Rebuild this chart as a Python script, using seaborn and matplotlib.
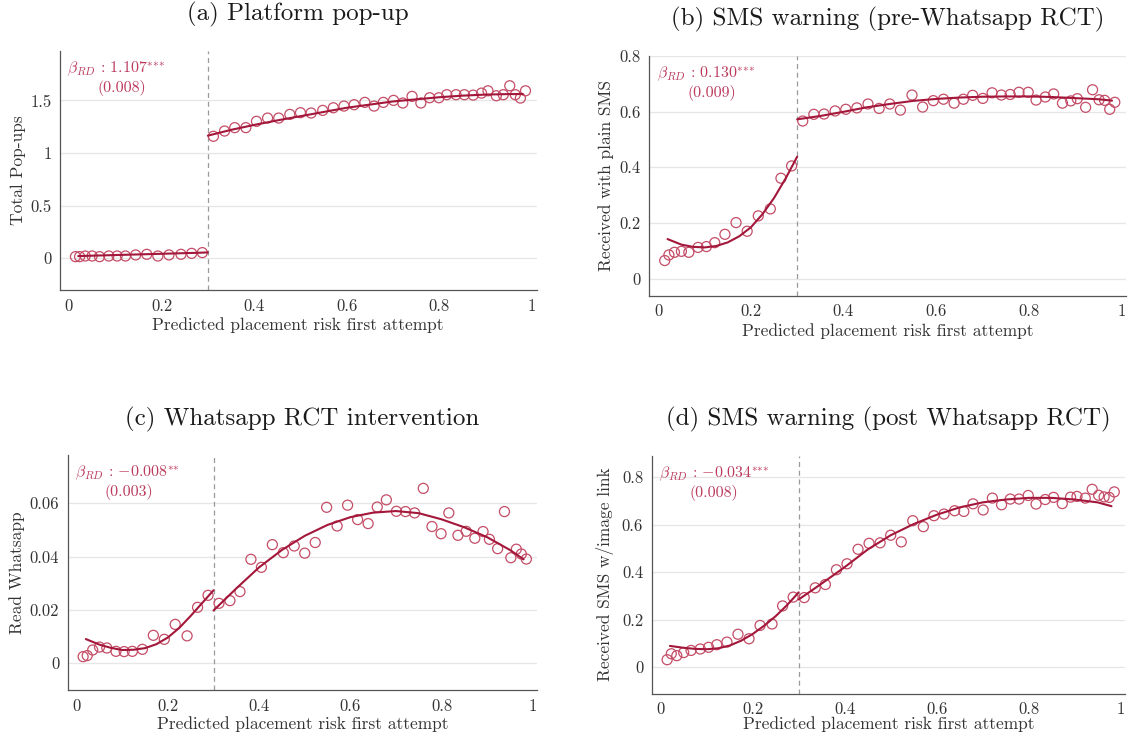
import matplotlib
matplotlib.use("Agg")
import matplotlib.pyplot as plt
import seaborn as sns
import pandas as pd

# ---------------- data ----------------
X_BINS = [0.014, 0.023, 0.035, 0.050, 0.066, 0.086, 0.104, 0.122, 0.144, 0.168,
          0.192, 0.216, 0.242, 0.265, 0.288,
          0.312, 0.336, 0.358, 0.382, 0.405, 0.429, 0.453, 0.477, 0.500, 0.523,
          0.548, 0.571, 0.594, 0.616, 0.639, 0.659, 0.679, 0.701, 0.721, 0.741,
          0.760, 0.779, 0.799, 0.816, 0.836, 0.854, 0.873, 0.891, 0.905, 0.923,
          0.938, 0.952, 0.964, 0.975, 0.986]
CUTOFF = 0.3

FIT_X_LEFT = [0.02, 0.05, 0.075, 0.1, 0.125, 0.15, 0.175, 0.2, 0.225, 0.25, 0.275, 0.3]
FIT_X_RIGHT = [0.3, 0.35, 0.4, 0.45, 0.5, 0.55, 0.6, 0.65, 0.7, 0.75, 0.8, 0.85, 0.9, 0.95, 0.98]

# (a) Platform pop-up
A_POINTS = [0.016, 0.016, 0.022, 0.022, 0.016, 0.022, 0.022, 0.022, 0.032, 0.038,
            0.022, 0.032, 0.038, 0.047, 0.054,
            1.159, 1.209, 1.241, 1.241, 1.301, 1.332, 1.332, 1.367, 1.383, 1.380,
            1.405, 1.430, 1.446, 1.459, 1.481, 1.446, 1.481, 1.500, 1.475, 1.538,
            1.475, 1.525, 1.525, 1.554, 1.554, 1.554, 1.550, 1.569, 1.591, 1.544,
            1.554, 1.639, 1.554, 1.522, 1.591]
A_FIT_LEFT = [0.021, 0.025, 0.028, 0.031, 0.034, 0.037, 0.040, 0.043, 0.046, 0.049, 0.052, 0.056]
A_FIT_RIGHT = [1.165, 1.22, 1.267, 1.31, 1.35, 1.39, 1.43, 1.46, 1.49, 1.51, 1.53, 1.545, 1.555, 1.56, 1.56]

# (b) SMS warning (pre-Whatsapp RCT)
B_POINTS = [0.066, 0.086, 0.0955, 0.099, 0.0955, 0.113, 0.116, 0.130, 0.160, 0.202,
            0.171, 0.226, 0.251, 0.361, 0.405,
            0.566, 0.590, 0.591, 0.602, 0.608, 0.613, 0.627, 0.611, 0.627, 0.605,
            0.659, 0.616, 0.639, 0.644, 0.630, 0.644, 0.658, 0.647, 0.667, 0.659,
            0.661, 0.669, 0.669, 0.641, 0.652, 0.663, 0.630, 0.638, 0.646, 0.615,
            0.678, 0.642, 0.640, 0.608, 0.633]
B_FIT_LEFT = [0.143, 0.123, 0.115, 0.113, 0.118, 0.131, 0.153, 0.185, 0.232, 0.29, 0.36, 0.438]
B_FIT_RIGHT = [0.572, 0.584, 0.599, 0.615, 0.627, 0.638, 0.645, 0.650, 0.653, 0.654, 0.654, 0.652, 0.648, 0.644, 0.639]

# (c) Whatsapp RCT intervention
C_POINTS = [0.0025, 0.0029, 0.0050, 0.0061, 0.00575, 0.0045, 0.0044, 0.0045, 0.00525, 0.0105,
            0.0090, 0.0146, 0.0103, 0.0210, 0.0255,
            0.0225, 0.0235, 0.0269, 0.0390, 0.0360, 0.0445, 0.0415, 0.0440, 0.0413, 0.0453,
            0.0585, 0.0515, 0.0593, 0.0539, 0.0524, 0.0586, 0.0613, 0.0570, 0.0569, 0.0564,
            0.0656, 0.0513, 0.0486, 0.0564, 0.0480, 0.0495, 0.0469, 0.0494, 0.0465, 0.0430,
            0.0569, 0.0396, 0.0428, 0.0410, 0.0391]
C_FIT_LEFT = [0.0091, 0.0070, 0.0058, 0.0050, 0.0051, 0.0057, 0.0072, 0.0097, 0.0133, 0.0178, 0.0226, 0.0274]
C_FIT_RIGHT = [0.0198, 0.0281, 0.0360, 0.0425, 0.0478, 0.0519, 0.0548, 0.0565, 0.0571, 0.0563, 0.0540, 0.0510, 0.0473, 0.0425, 0.0390]

# (d) SMS warning (post Whatsapp RCT)
D_POINTS = [0.032, 0.057, 0.049, 0.062, 0.071, 0.077, 0.084, 0.095, 0.106, 0.139,
            0.120, 0.176, 0.182, 0.258, 0.295,
            0.293, 0.334, 0.348, 0.410, 0.435, 0.496, 0.521, 0.523, 0.555, 0.527,
            0.616, 0.591, 0.637, 0.644, 0.658, 0.655, 0.687, 0.661, 0.711, 0.683,
            0.707, 0.707, 0.722, 0.686, 0.705, 0.714, 0.688, 0.715, 0.718, 0.711,
            0.748, 0.723, 0.716, 0.714, 0.737]
D_FIT_LEFT = [0.090, 0.082, 0.0775, 0.076, 0.080, 0.0915, 0.112, 0.140, 0.175, 0.215, 0.262, 0.315]
D_FIT_RIGHT = [0.285, 0.352, 0.421, 0.495, 0.555, 0.602, 0.641, 0.672, 0.693, 0.705, 0.712, 0.712, 0.705, 0.693, 0.677]

TITLES = ["(a) Platform pop-up", "(b) SMS warning (pre-Whatsapp RCT)",
          "(c) Whatsapp RCT intervention", "(d) SMS warning (post Whatsapp RCT)"]
YLABELS = ["Total Pop-ups", "Received with plain SMS", "Read Whatsapp",
           "Received SMS w/image link"]
XLABEL = "Predicted placement risk first attempt"
COEFS = [r"$\beta_{RD}$ : 1.107$^{{*}{*}{*}}$", r"$\beta_{RD}$ : 0.130$^{{*}{*}{*}}$",
         r"$\beta_{RD}$ : $-$0.008$^{{*}{*}}$", r"$\beta_{RD}$ : $-$0.034$^{{*}{*}{*}}$"]
SES = ["(0.008)", "(0.009)", "(0.003)", "(0.008)"]

X_TICKS = [0, 0.2, 0.4, 0.6, 0.8, 1]
X_TICKLABELS = ["0", "0.2", "0.4", "0.6", "0.8", "1"]
Y_TICKS = [[0, 0.5, 1, 1.5], [0, 0.2, 0.4, 0.6, 0.8], [0, 0.02, 0.04, 0.06],
           [0, 0.2, 0.4, 0.6, 0.8]]
Y_TICKLABELS = [["0", "0.5", "1", "1.5"], ["0", "0.2", "0.4", "0.6", "0.8"],
                ["0", "0.02", "0.04", "0.06"], ["0", "0.2", "0.4", "0.6", "0.8"]]
Y_LIMS = [(-0.3, 1.97), (-0.06, 0.8), (-0.01, 0.078), (-0.11, 0.89)]

# ---------------- style ----------------
sns.set_style("white")
plt.rcParams["font.family"] = ["cmr10", "DejaVu Serif"]
plt.rcParams["mathtext.fontset"] = "cm"
plt.rcParams["axes.formatter.use_mathtext"] = True

LINE_C = "#a3173a"
MARK_C = "#c44d67"
TEXT_C = "#bb3a5c"
SPINE_C = "#555555"
GRID_C = "#e6e6e6"

fig = plt.figure(figsize=(11.3, 7.42), dpi=100)
W, H = 1130.0, 742.0
# axes boxes in pixels: left, top, right, bottom
BOXES = [(59.7, 50.9, 536.6, 289.9), (649.0, 55.7, 1125.9, 295.7),
         (67.6, 455.3, 537.3, 690.0), (651.5, 455.5, 1125.3, 693.5)]
YLABEL_X = [-0.070, -0.073, -0.091, -0.079]
XLABEL_Y = [-0.113, -0.113, -0.111, -0.094]

points_all = [A_POINTS, B_POINTS, C_POINTS, D_POINTS]
fits_left = [A_FIT_LEFT, B_FIT_LEFT, C_FIT_LEFT, D_FIT_LEFT]
fits_right = [A_FIT_RIGHT, B_FIT_RIGHT, C_FIT_RIGHT, D_FIT_RIGHT]

for i in range(4):
    l, t, r, b = BOXES[i]
    ax = fig.add_axes([l / W, 1 - b / H, (r - l) / W, (b - t) / H])
    pts = pd.DataFrame({"x": X_BINS, "y": points_all[i]})
    fl = pd.DataFrame({"x": FIT_X_LEFT, "y": fits_left[i]})
    fr = pd.DataFrame({"x": FIT_X_RIGHT, "y": fits_right[i]})

    ax.axvline(CUTOFF, color="#9a9a9a", lw=0.9, ls=(0, (4, 3)), zorder=1)
    sns.scatterplot(data=pts, x="x", y="y", ax=ax, marker="o", s=52,
                    color=MARK_C, facecolor="none", edgecolor=MARK_C,
                    linewidth=0.9, zorder=3, legend=False)
    for f in (fl, fr):
        sns.lineplot(data=f, x="x", y="y", ax=ax, color=LINE_C, lw=1.5,
                     estimator=None, sort=False, zorder=4, legend=False)

    ax.set_xlim(-0.02, 1.01)
    ax.set_ylim(*Y_LIMS[i])
    ax.set_xticks(X_TICKS)
    ax.set_xticklabels(X_TICKLABELS)
    ax.set_yticks(Y_TICKS[i])
    ax.set_yticklabels(Y_TICKLABELS[i])
    ax.yaxis.grid(True, color=GRID_C, lw=0.9, zorder=0)
    ax.xaxis.grid(False)
    ax.set_axisbelow(True)
    sns.despine(ax=ax)
    for s in ("left", "bottom"):
        ax.spines[s].set_color(SPINE_C)
        ax.spines[s].set_linewidth(0.9)
    ax.tick_params(direction="in", length=3.5, width=0.8, color=SPINE_C,
                   labelsize=12, labelcolor="#333333", pad=6)

    ax.set_xlabel(XLABEL, fontsize=12.5, color="#333333")
    ax.set_ylabel(YLABELS[i], fontsize=12.5, color="#333333")
    ax.xaxis.set_label_coords(0.5, XLABEL_Y[i])
    ax.yaxis.set_label_coords(YLABEL_X[i], 0.5)

    ax.text(0.016, 0.922, COEFS[i], transform=ax.transAxes, ha="left",
            va="center", fontsize=11.5, color=TEXT_C)
    ax.text(0.131, 0.843, SES[i], transform=ax.transAxes, ha="center",
            va="center", fontsize=11.5, color=TEXT_C)

    fig.text(((l + r) / 2) / W, 1 - (t - 36) / H, TITLES[i], ha="center",
             va="center", fontsize=18, color="#1a1a1a")

fig.savefig("out.png", dpi=100)
